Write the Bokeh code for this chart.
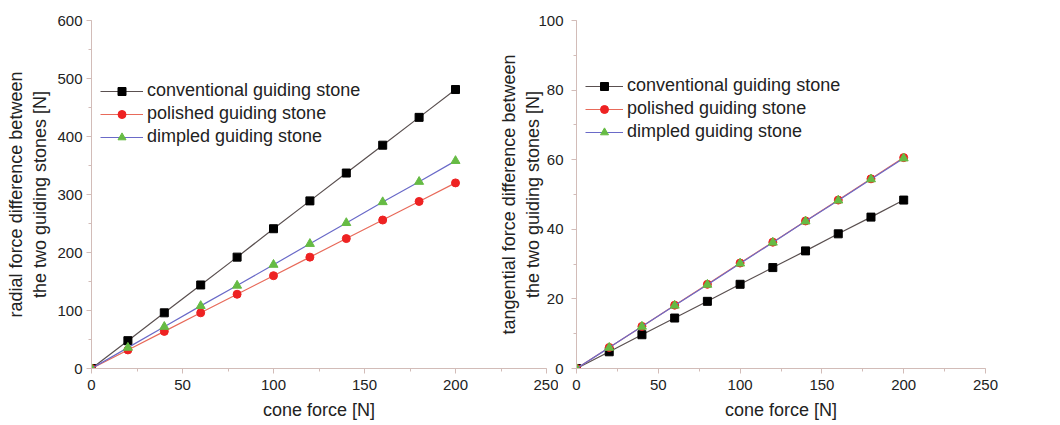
from bokeh.plotting import figure
from bokeh.layouts import row
from bokeh.models import Legend, LegendItem
from bokeh.embed import file_html
from bokeh.resources import INLINE

cone_force = [0, 20, 40, 60, 80, 100, 120, 140, 160, 180, 200]

radial_conventional = [0, 48, 96, 144, 192, 241, 289, 337, 385, 433, 481]
radial_polished = [0, 32, 64, 96, 128, 160, 192, 224, 256, 288, 320]
radial_dimpled = [0, 36, 72, 108, 143, 179, 215, 251, 287, 322, 358]

tang_conventional = [0, 4.8, 9.7, 14.5, 19.3, 24.2, 29.0, 33.8, 38.7, 43.5, 48.4]
tang_polished = [0, 6.05, 12.1, 18.2, 24.2, 30.3, 36.3, 42.4, 48.4, 54.5, 60.6]
tang_dimpled = [0, 6.0, 12.05, 18.1, 24.1, 30.2, 36.2, 42.3, 48.3, 54.4, 60.4]

series_names = ["conventional guiding stone", "polished guiding stone", "dimpled guiding stone"]

FONT = "Liberation Sans"
AXIS_COL = "#d2bcb8"
TEXT_COL = "#222222"
LINE_COLS = ["#5a5050", "#e86a5a", "#6a6ac8"]
MARK_COLS = ["#000000", "#ee2222", "#66bb44"]


def make_fig(ys, ymax, ylabel, width, bl, br, legend_loc, glyph_w, margin,
             y_tick_standoff, y_label_standoff):
    p = figure(width=width, height=422, x_range=(0, 250), y_range=(0, ymax),
               output_backend="svg", toolbar_location=None,
               min_border_left=bl, min_border_right=br, min_border_top=20,
               min_border_bottom=10, margin=margin)
    p.border_fill_color = None
    p.background_fill_color = None
    p.outline_line_color = None
    p.grid.visible = False
    for ax in (p.xaxis[0], p.yaxis[0]):
        ax.axis_line_color = AXIS_COL
        ax.major_tick_line_color = AXIS_COL
        ax.minor_tick_line_color = AXIS_COL
        ax.major_tick_in = 0
        ax.major_tick_out = 5
        ax.minor_tick_in = 0
        ax.minor_tick_out = 3
        ax.major_label_text_font = FONT
        ax.major_label_text_font_size = "15px"
        ax.major_label_text_color = TEXT_COL
        ax.axis_label_text_font = FONT
        ax.axis_label_text_font_size = "18px"
        ax.axis_label_text_font_style = "normal"
        ax.axis_label_text_color = TEXT_COL
    p.xaxis[0].major_label_standoff = 6
    p.xaxis[0].axis_label_standoff = 7
    p.yaxis[0].major_label_standoff = y_tick_standoff
    p.yaxis[0].axis_label_standoff = y_label_standoff
    p.xaxis.ticker.desired_num_ticks = 5
    p.xaxis[0].ticker.num_minor_ticks = 2
    p.yaxis[0].ticker.num_minor_ticks = 2
    p.xaxis.axis_label = "cone force [N]"
    p.yaxis.axis_label = ylabel

    items = []
    markers = ["square", "circle", "triangle"]
    sizes = [8, 8, 9]
    for i, y in enumerate(ys):
        l = p.line(cone_force, y, line_color=LINE_COLS[i], line_width=1.2)
        s = p.scatter(cone_force, y, marker=markers[i], size=sizes[i],
                      fill_color=MARK_COLS[i], line_color=MARK_COLS[i])
        items.append(LegendItem(label=series_names[i], renderers=[l, s]))
    leg = Legend(items=items, location=legend_loc)
    leg.border_line_color = None
    leg.background_fill_alpha = 0
    leg.label_text_font = FONT
    leg.label_text_font_size = "18px"
    leg.label_text_color = TEXT_COL
    leg.glyph_width = glyph_w
    leg.glyph_height = 20
    leg.label_height = 20
    leg.spacing = 2
    leg.padding = 0
    leg.margin = 0
    leg.label_standoff = 4
    p.add_layout(leg, "center")
    return p


p1 = make_fig([radial_conventional, radial_polished, radial_dimpled], 600,
              "radial force difference between\nthe two guiding stones [N]",
              width=558, bl=91, br=12, legend_loc=(9, 221), glyph_w=43,
              margin=(0, 0, 0, 0), y_tick_standoff=4, y_label_standoff=4)
p2 = make_fig([tang_conventional, tang_polished, tang_dimpled], 100,
              "tangential force difference between\nthe two guiding stones [N]",
              width=517, bl=88, br=20, legend_loc=(9, 226), glyph_w=38,
              margin=(0, 0, 0, -70), y_tick_standoff=8, y_label_standoff=-8)

layout = row(p1, p2)
open("out.html", "w").write(file_html(layout, INLINE))
